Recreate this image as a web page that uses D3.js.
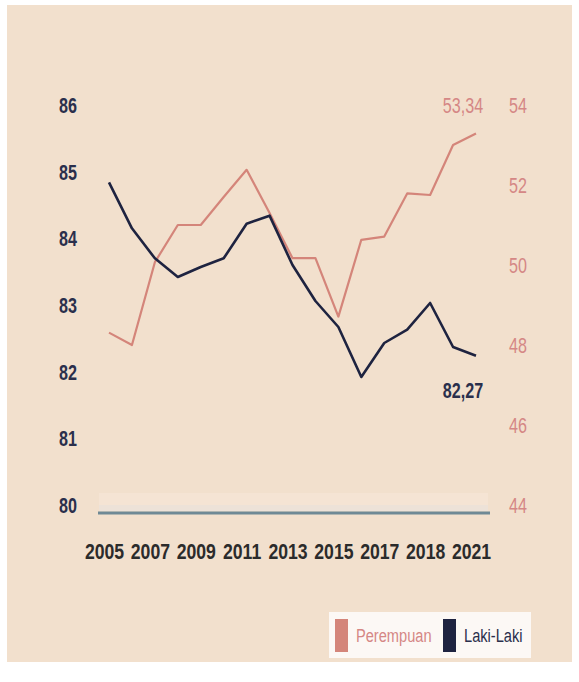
<!DOCTYPE html>
<html>
<head>
<meta charset="utf-8">
<script src="https://cdn.jsdelivr.net/npm/d3@7"></script>
<style>
  html, body { margin: 0; padding: 0; background: #ffffff; }
  svg { display: block; }
  text { font-family: "Liberation Sans", Arial, sans-serif; }
</style>
</head>
<body>
<svg id="chart" width="579" height="682"></svg>
<script>
// ---- data ----
const years = [2005,2006,2007,2008,2009,2010,2011,2012,2013,2014,2015,2016,2017,2018,2019,2020,2021];
const lakiLaki = [84.87,84.18,83.73,83.45,83.60,83.73,84.25,84.37,83.63,83.09,82.70,81.95,82.46,82.66,83.06,82.40,82.27];
const perempuan = [48.36,48.05,50.12,51.05,51.05,51.75,52.43,51.35,50.22,50.22,48.76,50.68,50.76,51.84,51.80,53.05,53.34];
const leftTicks = [80,81,82,83,84,85,86];
const rightTicks = [44,46,48,50,52,54];
const xTickYears = [2005,2007,2009,2011,2013,2015,2017,2019,2021];
const xTickLabels = ["2005","2007","2009","2011","2013","2015","2017","2018","2021"];
const seriesNames = ["Perempuan","Laki-Laki"];
const endLabels = ["53,34","82,27"];

// ---- styles ----
const C = {
  bg: "#f2e0cd",
  pink: "#d4857a",
  pinkText: "#d58785",
  navy: "#1e2340",
  navyText: "#2a2f4c",
  xText: "#2b2b2b",
  base: "#6f8995"
};
const SX = 0.75;      // horizontal condensing of text
const FS = 21.5;      // main font size

const svg = d3.select("#chart");
svg.append("rect").attr("x",7).attr("y",5).attr("width",565).attr("height",657).attr("fill",C.bg);

const x = d3.scaleLinear().domain([2005,2021]).range([109,476]);
const yL = d3.scaleLinear().domain([80,86]).range([507,107]);
const yR = d3.scaleLinear().domain([44,54]).range([507,107]);

// baseline band + line
const bx0 = x(2005)-10, bw = x(2021)-x(2005)+22;
svg.append("rect").attr("x",bx0).attr("y",yL(80)-14).attr("width",bw).attr("height",12).attr("fill","#f5e4d4");
svg.append("rect").attr("x",bx0).attr("y",yL(80)-2).attr("width",bw).attr("height",6).attr("fill","#ede2d8");
svg.append("line").attr("x1",x(2005)-11).attr("x2",x(2021)+14).attr("y1",yL(80)+6).attr("y2",yL(80)+6)
  .attr("stroke",C.base).attr("stroke-width",3);

function styleAxisText(g, color, weight, dy, sx) {
  g.select(".domain").remove();
  g.selectAll("text").attr("font-size",FS).attr("fill",color).attr("font-weight",weight)
    .attr("font-family","'Liberation Sans', sans-serif").attr("dy",dy)
    .attr("transform",`scale(${sx},1)`);
}

// left axis
const gL = svg.append("g").attr("transform","translate(77,-2)")
  .call(d3.axisLeft(yL).tickValues(leftTicks).tickSize(0).tickPadding(0).tickFormat(d3.format("d")));
styleAxisText(gL, C.navyText, "bold", "0.35em", SX);

// right axis
const gR = svg.append("g").attr("transform","translate(509,-2)")
  .call(d3.axisRight(yR).tickValues(rightTicks).tickSize(0).tickPadding(0).tickFormat(d3.format("d")));
styleAxisText(gR, C.pinkText, "normal", "0.35em", SX);

// x axis
const gX = svg.append("g").attr("transform","translate(-5,544)")
  .call(d3.axisBottom(x).tickValues(xTickYears).tickSize(0).tickPadding(0)
    .tickFormat((d,i) => xTickLabels[i]));
styleAxisText(gX, C.xText, "bold", "0.72em", 0.82);

// lines
const lineL = d3.line().x((d,i)=>x(years[i])).y(d=>yL(d));
const lineR = d3.line().x((d,i)=>x(years[i])).y(d=>yR(d));
svg.append("path").datum(perempuan).attr("d",lineR).attr("fill","none")
  .attr("stroke",C.pink).attr("stroke-width",2.2).attr("stroke-linejoin","round");
svg.append("path").datum(lakiLaki).attr("d",lineL).attr("fill","none")
  .attr("stroke",C.navy).attr("stroke-width",2.6).attr("stroke-linejoin","round");

// end labels
const last = years.length-1;
function condText(px, py, str, opts) {
  return svg.append("text").attr("transform",`translate(${px},${py}) scale(${opts.sx||SX},1)`)
    .attr("text-anchor",opts.anchor||"middle").attr("dy","0.35em")
    .attr("font-size",opts.fs||FS).attr("font-weight",opts.weight||"normal").attr("fill",opts.fill)
    .text(str);
}
condText(x(years[last])-13, yR(perempuan[last])-28, endLabels[0], {fill:C.pinkText});
condText(x(years[last])-13, yL(lakiLaki[last])+35, endLabels[1], {fill:C.navyText, weight:"bold"});

// legend
svg.append("rect").attr("x",329).attr("y",612).attr("width",202).attr("height",46).attr("fill","#fcf8f5");
const legendColors = [C.pink, C.navy];
const legendTextColors = [C.pinkText, C.navyText];
const legendX = [335, 443];
seriesNames.forEach((name,i)=>{
  svg.append("rect").attr("x",legendX[i]).attr("y",619).attr("width",13).attr("height",33).attr("fill",legendColors[i]);
  condText(legendX[i]+21, 635, name, {fill:legendTextColors[i], anchor:"start", fs:19, sx:0.77});
});
</script>
</body>
</html>
